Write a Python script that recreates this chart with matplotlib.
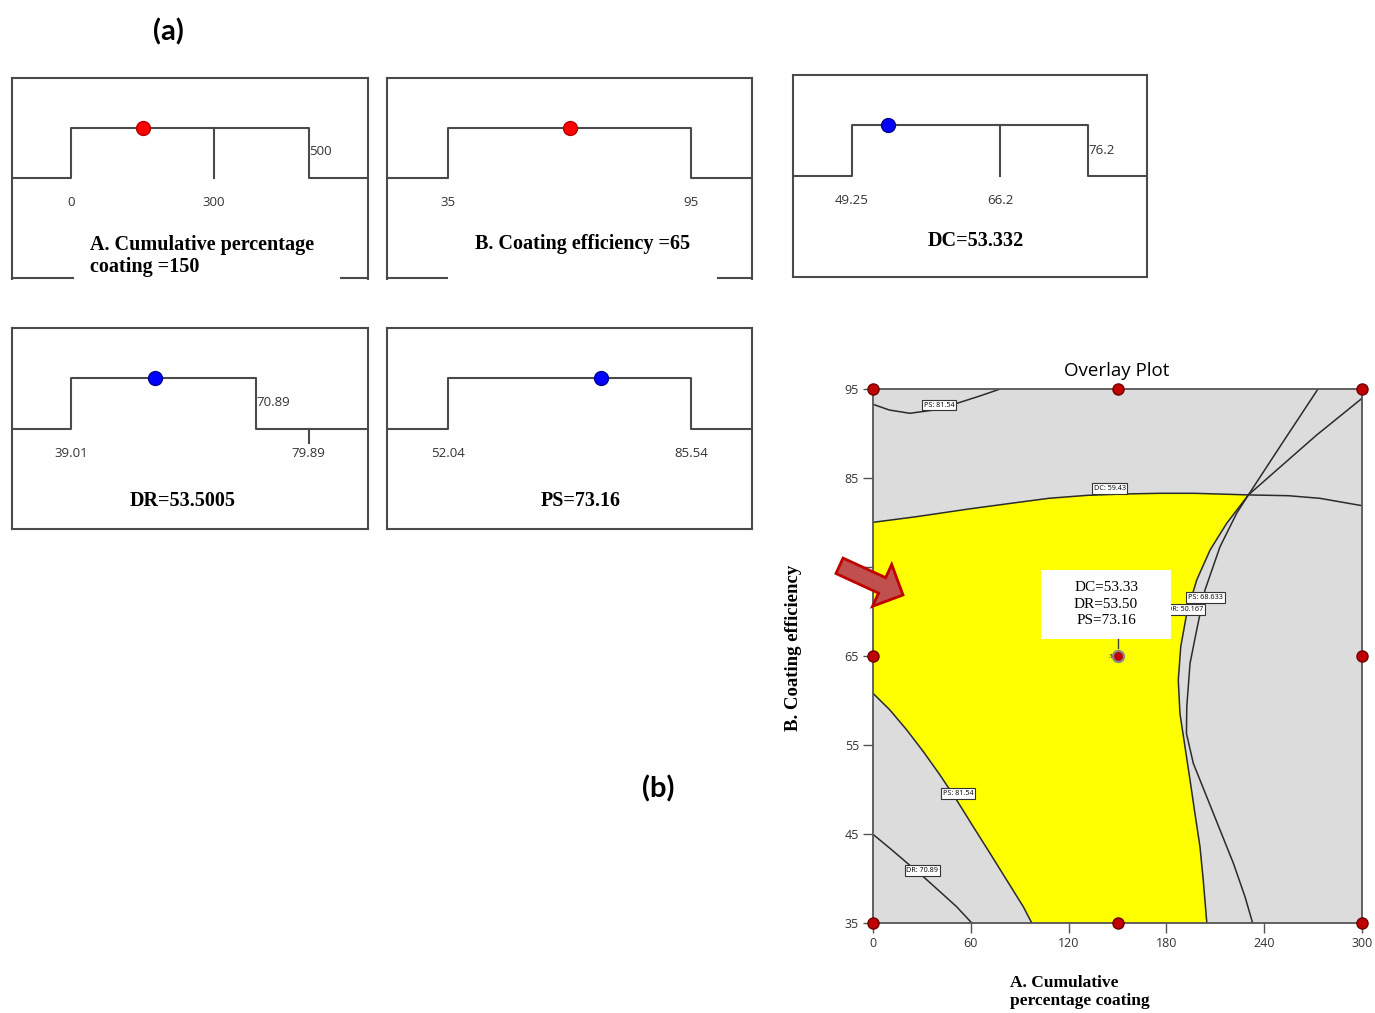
import matplotlib.pyplot as plt
import numpy as np
from matplotlib.patches import FancyArrow, Rectangle

W, H = 1375, 1013

# desirability ramps: lower limit, plateau end, scale end, reference tick, optimum
ramp_lo = [0, 35, 49.25, 39.01, 52.04]
ramp_hi = [500, 95, 76.2, 70.89, 85.54]
ramp_end = [500, 95, 76.2, 79.89, 85.54]
ramp_tick = [300, None, 66.2, 79.89, None]
ramp_value = [150, 65, 53.332, 53.5005, 73.16]
ramp_prefix = ["A. Cumulative percentage\ncoating =", "B. Coating efficiency =",
               "DC=", "DR=", "PS="]
ramp_labels = [["0", "500", "300"], ["35", "95"], ["49.25", "76.2", "66.2"],
               ["39.01", "70.89", "79.89"], ["52.04", "85.54"]]
ramp_is_factor = [True, True, False, False, False]

# overlay plot: boundary contours (A, B)
ps_top_x = [0, 10, 22.6, 37.5, 52.5, 65.3, 78.0]
ps_top_y = [93.28, 92.64, 92.27, 92.64, 93.45, 94.2, 95.0]
dc_x = [0, 26.9, 58.8, 84.4, 107.9, 131.3, 152.6, 176.1, 197.4, 230.3, 254.9, 274.1, 300]
dc_y = [80.02, 80.66, 81.52, 82.15, 82.72, 83.05, 83.2, 83.28, 83.28, 83.1, 83.01, 82.72, 81.89]
dr_x = [300, 272, 230.3, 217.0, 206.8, 198.6, 192.5, 188.8, 187.3, 188.3, 191.4, 194.5,
        197.5, 200.6, 202.6, 204.8]
dr_y = [93.95, 89.8, 83.1, 79.91, 76.91, 73.54, 69.8, 66.05, 62.3, 58.56, 54.81, 51.07,
        47.32, 43.57, 39.83, 35.0]
ps_mid_x = [273.0, 251.0, 230.3, 223.1, 212.9, 203.7, 198.6, 194.5, 192.5, 192.3, 196.5,
            204.7, 212.9, 221.1, 228.2, 232.9]
ps_mid_y = [95, 88.9, 83.1, 81.04, 77.28, 72.43, 67.94, 64.18, 59.31, 56.3, 52.94,
            49.2, 45.45, 41.71, 37.96, 35.0]
ps_low_x = [0, 10.4, 20.7, 30.9, 41.1, 51.3, 61.5, 71.8, 82.0, 92.2, 97.4]
ps_low_y = [60.81, 58.93, 56.69, 54.25, 51.63, 48.82, 45.82, 42.83, 39.83, 36.83, 35.0]
dr_low_x = [0, 10.4, 20.7, 30.9, 41.1, 51.3, 60.6]
dr_low_y = [44.96, 43.39, 41.78, 40.2, 38.52, 36.83, 35.0]

contour_text = ["PS: 81.54", "DC: 59.43", "PS: 68.633", "DR: 50.167", "PS: 81.54", "DR: 70.89"]
contour_lx = [40.7, 145.2, 204.0, 191.4, 52.3, 30.3]
contour_ly = [93.2, 83.8, 71.6, 70.2, 49.57, 40.88]

design_x = [0, 150, 300, 0, 300, 0, 150, 300]
design_y = [35, 35, 35, 65, 65, 95, 95, 95]
center_pt = (150, 65)
center_resp = [("DC", 53.33), ("DR", 53.50), ("PS", 73.16)]

serif = "Liberation Serif"
sans = "Open Sans"
grey = "#4a4a4a"


def px_box(l, t, r, b):
    return [l / W, 1 - b / H, (r - l) / W, (b - t) / H]


fig = plt.figure(figsize=(W / 100, H / 100), dpi=100)

panel_px = [(12, 78, 368, 279), (387, 78, 752, 279), (793, 75, 1147, 277),
            (12, 328, 368, 529), (387, 328, 752, 529)]
title_pos = [(0.219, 0.114, "left"), (0.536, 0.174, "center"), (0.516, 0.178, "center"),
             (0.48, 0.139, "center"), (0.531, 0.139, "center")]
below_y = [0.383, 0.383, 0.381, 0.378, 0.378]
side_y = [0.632, None, 0.624, 0.627, None]
bottom_gap = [(0.171, 0.924), (0.164, 0.907), None, None, None]

for i in range(5):
    ax = fig.add_axes(px_box(*panel_px[i]))
    lo, hi, end = ramp_lo[i], ramp_hi[i], ramp_end[i]
    pad = (end - lo) / 4
    x0, x1 = lo - pad, end + pad
    ax.set_xlim(x0, x1)
    ax.set_ylim(0, 1)
    ax.set_xticks([])
    ax.set_yticks([])
    for s in ax.spines.values():
        s.set_color(grey)
        s.set_linewidth(1.5)
    if bottom_gap[i]:
        ax.spines["bottom"].set_visible(False)
        g0, g1 = bottom_gap[i]
        ax.plot([0, g0], [0.004, 0.004], color=grey, lw=1.5, transform=ax.transAxes, clip_on=False)
        ax.plot([g1, 1], [0.004, 0.004], color=grey, lw=1.5, transform=ax.transAxes, clip_on=False)

    ax.plot([x0, lo, lo, hi, hi, x1], [0.5, 0.5, 0.75, 0.75, 0.5, 0.5], color=grey, lw=1.5)
    trans = ax.get_xaxis_transform()
    labs = ramp_labels[i]
    tick = ramp_tick[i]
    ax.text(lo, below_y[i], labs[0], ha="center", va="center", fontsize=9.5,
            family=sans, color="#333333", transform=trans)
    if tick is None:
        ax.text(hi, below_y[i], labs[1], ha="center", va="center", fontsize=9.5,
                family=sans, color="#333333", transform=trans)
    else:
        ax.text(hi, side_y[i], labs[1], ha="left", va="center", fontsize=9.5,
                family=sans, color="#333333", transform=trans)
        if tick < hi:
            ax.plot([tick, tick], [0.5, 0.75], color=grey, lw=1.5)
        else:
            ax.plot([tick, tick], [0.43, 0.5], color=grey, lw=1.5)
        ax.text(tick, below_y[i], labs[2], ha="center", va="center", fontsize=9.5,
                family=sans, color="#333333", transform=trans)

    if ramp_is_factor[i]:
        fc, ec = "#ff0000", "#b00000"
    else:
        fc, ec = "#0000ff", "#000090"
    ax.plot([ramp_value[i]], [0.75], "o", ms=10, mfc=fc, mec=ec, mew=1, zorder=5)

    tx, ty, ha = title_pos[i]
    ax.text(tx, ty, ramp_prefix[i] + str(ramp_value[i]), transform=ax.transAxes,
            ha=ha, va="center", fontsize=14.5, family=serif, weight="bold",
            linespacing=1.15)

# overlay plot
ax = fig.add_axes(px_box(873, 389, 1362, 923))
ax.set_facecolor("#dcdcdc")
ax.set_xlim(0, 300)
ax.set_ylim(35, 95)

k = dc_x.index(230.3)
j = dr_x.index(230.3)
poly_x = np.concatenate([dc_x[:k + 1], dr_x[j + 1:], ps_low_x[::-1]])
poly_y = np.concatenate([dc_y[:k + 1], dr_y[j + 1:], ps_low_y[::-1]])
ax.fill(poly_x, poly_y, color="#ffff00", lw=0, zorder=1)

for cx, cy in [(ps_top_x, ps_top_y), (dc_x, dc_y), (dr_x, dr_y), (ps_mid_x, ps_mid_y),
               (ps_low_x, ps_low_y), (dr_low_x, dr_low_y)]:
    ax.plot(cx, cy, color="#2b2b2b", lw=1.1, zorder=2, solid_joinstyle="round")

for s, lx, ly in zip(contour_text, contour_lx, contour_ly):
    ax.text(lx, ly, s, fontsize=5.2, family=sans, ha="center", va="center", zorder=3,
            bbox=dict(boxstyle="square,pad=0.25", fc="white", ec="#333333", lw=0.8))

ax.plot(design_x, design_y, "o", ms=8, mfc="#c00000", mec="#700000", mew=1,
        clip_on=False, zorder=7)
ax.plot([center_pt[0]], [center_pt[1]], "o", ms=8, mfc="#c00000", mec="#8a8a8a",
        mew=1.6, zorder=7)
ax.text(center_pt[0] - 4.5, center_pt[1], "3", fontsize=5, ha="center", va="center",
        family=serif, zorder=7)

# prediction box at the optimum
ax.add_patch(Rectangle((103.1, 66.91), 79.7, 7.75, fc="white", ec="none", zorder=6))
ax.plot([center_pt[0], center_pt[0]], [66.91, 65.9], color="#444444", lw=1, zorder=6)
ax.text(143, 70.8, "\n".join(f"{n}={v:.2f}" for n, v in center_resp), ha="center",
        va="center", fontsize=11, family=serif, linespacing=1.35, zorder=6)

ax.set_xticks([0, 60, 120, 180, 240, 300])
ax.set_yticks([35, 45, 55, 65, 75, 85, 95])
ax.tick_params(direction="out", length=7, width=1, pad=3, colors="#555555",
               labelsize=9, labelcolor="#333333")
for lab in ax.get_xticklabels() + ax.get_yticklabels():
    lab.set_family(sans)
for s in ax.spines.values():
    s.set_color("#555555")
    s.set_linewidth(1.3)

fig.text(1117 / W, 1 - 371 / H, "Overlay Plot", ha="center", va="center",
         fontsize=13.5, family=sans)
fig.text(793 / W, 1 - 648 / H, "B. Coating efficiency", rotation=90, ha="center",
         va="center", fontsize=13.5, family=serif, weight="bold")
fig.text(1010 / W, 1 - 992 / H, "A. Cumulative\npercentage coating", ha="left",
         va="center", fontsize=12.5, family=serif, weight="bold", linespacing=1.15)

fig.text(168 / W, 1 - 32 / H, "(a)", ha="center", va="center", fontsize=21,
         family="Lato", weight="bold")
fig.text(658 / W, 1 - 789 / H, "(b)", ha="center", va="center", fontsize=21,
         family="Lato", weight="bold")

# pointer arrow towards the feasible region
top = fig.add_axes([0, 0, 1, 1], zorder=10)
top.set_xlim(0, W)
top.set_ylim(H, 0)
top.axis("off")
top.patch.set_alpha(0)
top.add_patch(FancyArrow(839.5, 565.8, 63.5, 29.2, width=17, head_width=46,
                         head_length=23, length_includes_head=True,
                         fc="#c0504d", ec="#c00000", lw=2))

fig.savefig("out.png", dpi=100)
